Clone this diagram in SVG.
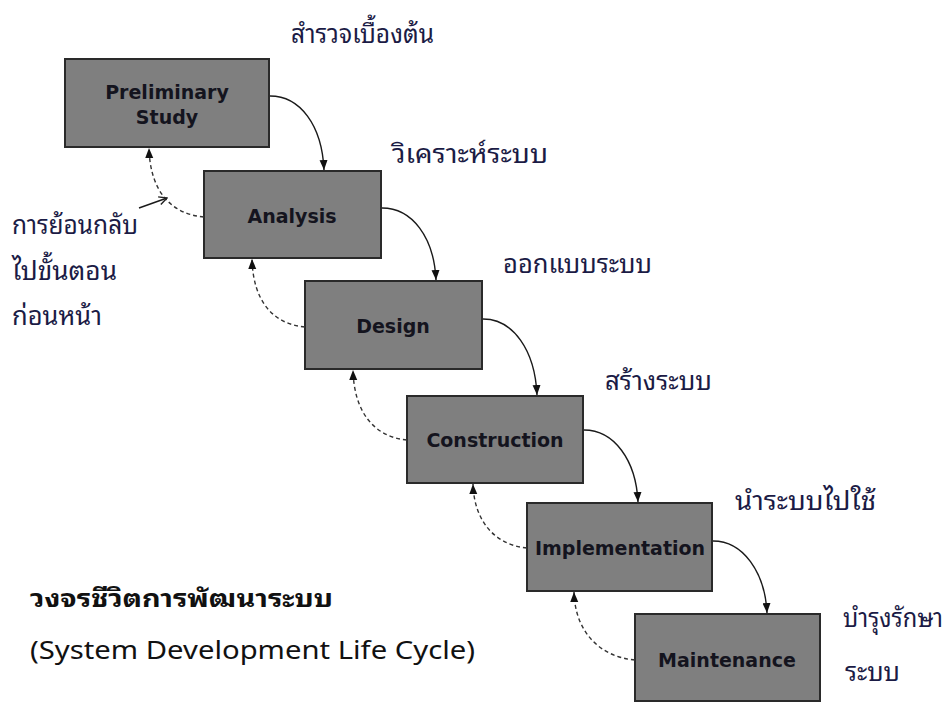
<svg xmlns="http://www.w3.org/2000/svg" width="952" height="702" viewBox="0 0 952 702">
  <style>
    .box { fill: #7f7f7f; stroke: #2a2a2a; stroke-width: 2; }
    .lbl { font-family: "DejaVu Sans", Verdana, sans-serif; font-weight: bold; font-size: 19px; fill: #14141e; text-anchor: middle; }
    .th { font-family: "Noto Sans Thai Looped", Tahoma, "Loma", "Garuda", "Noto Sans Thai", "DejaVu Sans", sans-serif; font-size: 26px; fill: #1b1b45; }
    .title { font-family: Tahoma, "Noto Sans Thai Looped", "Loma", "Noto Sans Thai", "DejaVu Sans", sans-serif; font-size: 25px; fill: #111; }
    .fwd { fill: none; stroke: #1a1a1a; stroke-width: 1.4; }
    .back { fill: none; stroke: #333; stroke-width: 1.4; stroke-dasharray: 4 3; }
  </style>
  <defs>
    <marker id="head" markerUnits="userSpaceOnUse" markerWidth="10" markerHeight="10" viewBox="0 0 10 10" refX="10" refY="5" orient="auto">
      <path d="M0,1 L10,5 L0,9 Z" fill="#111"/>
    </marker>
    <marker id="open" markerUnits="userSpaceOnUse" markerWidth="10" markerHeight="10" viewBox="0 0 10 10" refX="9" refY="5" orient="auto">
      <path d="M1,1 L9,5 L1,9" fill="none" stroke="#222" stroke-width="1.4"/>
    </marker>
  </defs>

  <rect width="952" height="702" fill="#fff"/>

  <!-- phase boxes -->
  <g id="preliminary">
    <rect class="box" x="65" y="59" width="204" height="88"/>
    <text class="lbl" x="167" y="99">Preliminary</text>
    <text class="lbl" x="167" y="124">Study</text>
  </g>
  <g id="analysis">
    <rect class="box" x="204" y="171" width="177" height="87"/>
    <text class="lbl" x="292" y="223">Analysis</text>
  </g>
  <g id="design">
    <rect class="box" x="305" y="281" width="177" height="88"/>
    <text class="lbl" x="393" y="333">Design</text>
  </g>
  <g id="construction">
    <rect class="box" x="407" y="396" width="176" height="87"/>
    <text class="lbl" x="495" y="447">Construction</text>
  </g>
  <g id="implementation">
    <rect class="box" x="527" y="503" width="185" height="88"/>
    <text class="lbl" x="620" y="555">Implementation</text>
  </g>
  <g id="maintenance">
    <rect class="box" x="635" y="614" width="185" height="87"/>
    <text class="lbl" x="727" y="667">Maintenance</text>
  </g>

  <!-- connectors -->
  <g id="connectors">
    <path class="fwd" d="M270,96 C300,96 322,125 324,170" marker-end="url(#head)"/>
    <path class="fwd" d="M382,208 C412,208 434,237 436,280" marker-end="url(#head)"/>
    <path class="fwd" d="M483,319 C513,319 535,350 537,395" marker-end="url(#head)"/>
    <path class="fwd" d="M584,430 C614,430 636,460 638,502" marker-end="url(#head)"/>
    <path class="fwd" d="M713,541 C743,541 765,572 767,613" marker-end="url(#head)"/>

    <path class="back" d="M204,217 C170,214 150,190 149,148" marker-end="url(#head)"/>
    <path class="back" d="M305,327 C272,324 253,300 252,259" marker-end="url(#head)"/>
    <path class="back" d="M407,440 C374,437 354,412 353,370" marker-end="url(#head)"/>
    <path class="back" d="M527,548 C494,545 474,520 473,484" marker-end="url(#head)"/>
    <path class="back" d="M635,660 C600,657 575,632 574,592" marker-end="url(#head)"/>

    <path class="fwd" d="M139,208 L167,198" marker-end="url(#open)"/>
  </g>

  <!-- phase captions -->
  <text class="th" x="291" y="43" textLength="143" lengthAdjust="spacingAndGlyphs">สำรวจเบื้องต้น</text>
  <text class="th" x="392" y="163" textLength="156" lengthAdjust="spacingAndGlyphs">วิเคราะห์ระบบ</text>
  <text class="th" x="503" y="273" textLength="149" lengthAdjust="spacingAndGlyphs">ออกแบบระบบ</text>
  <text class="th" x="605" y="390" textLength="107" lengthAdjust="spacingAndGlyphs">สร้างระบบ</text>
  <text class="th" x="735" y="510" textLength="141" lengthAdjust="spacingAndGlyphs">นำระบบไปใช้</text>
  <text class="th" x="843" y="627" textLength="100" lengthAdjust="spacingAndGlyphs">บำรุงรักษา</text>
  <text class="th" x="845" y="681" textLength="55" lengthAdjust="spacingAndGlyphs">ระบบ</text>

  <!-- feedback note -->
  <text class="th" x="12" y="234" textLength="126" lengthAdjust="spacingAndGlyphs">การย้อนกลับ</text>
  <text class="th" x="12" y="280" textLength="105" lengthAdjust="spacingAndGlyphs">ไปขั้นตอน</text>
  <text class="th" x="12" y="325" textLength="90" lengthAdjust="spacingAndGlyphs">ก่อนหน้า</text>

  <!-- title -->
  <text class="title" x="30" y="607" font-weight="bold" textLength="303" lengthAdjust="spacingAndGlyphs">วงจรชีวิตการพัฒนาระบบ</text>
  <text class="title" x="30" y="659" textLength="445" lengthAdjust="spacingAndGlyphs">(System Development Life Cycle)</text>
</svg>
